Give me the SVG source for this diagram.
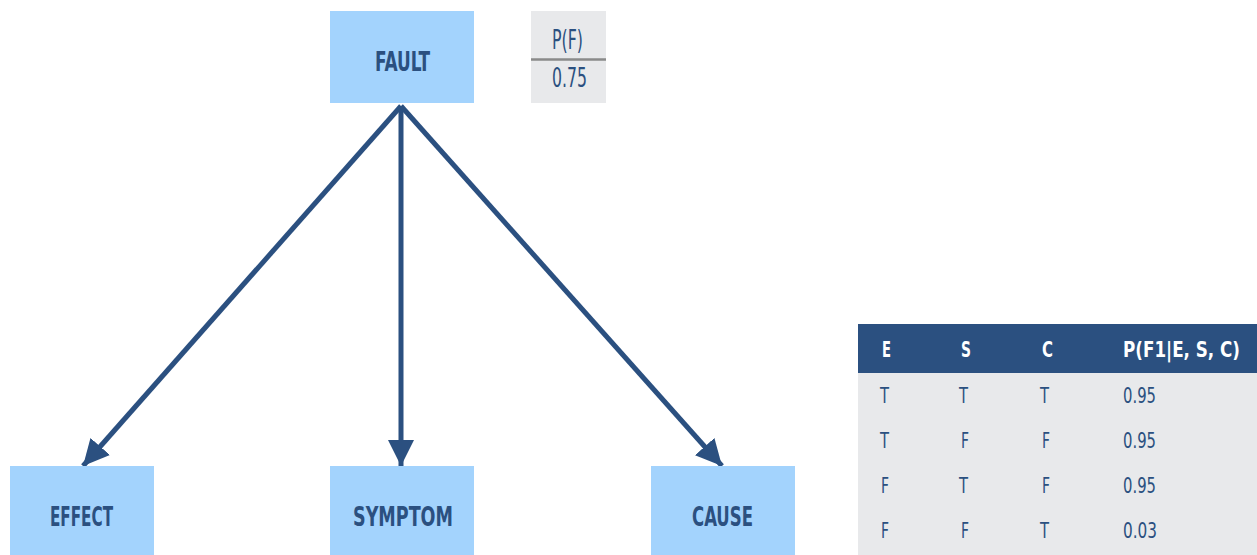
<svg xmlns="http://www.w3.org/2000/svg" width="1257" height="555" viewBox="0 0 1257 555">
<style>
.node{fill:#a3d3fd}
.nt{font-family:"DejaVu Sans Condensed","DejaVu Sans",sans-serif;font-weight:bold;font-size:26px;fill:#2b5080}
.pt{font-family:"DejaVu Sans Condensed","DejaVu Sans",sans-serif;font-size:26px;fill:#2b5080}
.th{font-family:"DejaVu Sans Condensed","DejaVu Sans",sans-serif;font-weight:bold;font-size:21px;fill:#ffffff}
.td{font-family:"DejaVu Sans Condensed","DejaVu Sans",sans-serif;font-size:21px;fill:#2b5080}
.edge{stroke:#2b5080;stroke-width:5;fill:none}
</style>
<defs>
<marker id="ah" markerUnits="userSpaceOnUse" markerWidth="28" markerHeight="28" viewBox="0 0 28 28" refX="26" refY="14" orient="auto">
<path d="M0,1 L26,14 L0,27 Z" fill="#2b5080"/>
</marker>
</defs>
<rect width="1257" height="555" fill="#ffffff"/>
<g id="connectors">
<line class="edge" x1="401" y1="106" x2="83" y2="466" marker-end="url(#ah)"/>
<line class="edge" x1="401" y1="106" x2="401" y2="466" marker-end="url(#ah)"/>
<line class="edge" x1="401" y1="106" x2="722" y2="466" marker-end="url(#ah)"/>
</g>
<g id="fault">
<rect class="node" x="330" y="11" width="144" height="92"/>
<text class="nt" x="375" y="71" textLength="55" lengthAdjust="spacingAndGlyphs">FAULT</text>
</g>
<g id="pf-table">
<rect x="531" y="11" width="75" height="92" fill="#e8e9eb"/>
<line x1="531" y1="59.5" x2="606" y2="59.5" stroke="#8a8a8a" stroke-width="2.5"/>
<text class="pt" x="552" y="49" textLength="31" lengthAdjust="spacingAndGlyphs">P(F)</text>
<text class="pt" x="552" y="87" textLength="35" lengthAdjust="spacingAndGlyphs">0.75</text>
</g>
<g id="effect">
<rect class="node" x="10" y="466" width="144" height="89"/>
<text class="nt" x="50" y="526" textLength="63" lengthAdjust="spacingAndGlyphs">EFFECT</text>
</g>
<g id="symptom">
<rect class="node" x="330" y="466" width="144" height="89"/>
<text class="nt" x="353" y="526" textLength="100" lengthAdjust="spacingAndGlyphs">SYMPTOM</text>
</g>
<g id="cause">
<rect class="node" x="651" y="466" width="144" height="89"/>
<text class="nt" x="692" y="526" textLength="61" lengthAdjust="spacingAndGlyphs">CAUSE</text>
</g>
<g id="cpt-table">
<rect x="858" y="373" width="399" height="182" fill="#e8e9eb"/>
<rect x="858" y="324" width="399" height="49" fill="#2b5080"/>
<text class="th" x="882" y="357" textLength="9" lengthAdjust="spacingAndGlyphs">E</text>
<text class="th" x="961" y="357" textLength="10" lengthAdjust="spacingAndGlyphs">S</text>
<text class="th" x="1042" y="357" textLength="11" lengthAdjust="spacingAndGlyphs">C</text>
<text class="th" x="1123" y="357" textLength="117" lengthAdjust="spacingAndGlyphs">P(F1|E, S, C)</text>
<text class="td" x="880" y="403" textLength="9" lengthAdjust="spacingAndGlyphs">T</text><text class="td" x="959" y="403" textLength="9" lengthAdjust="spacingAndGlyphs">T</text><text class="td" x="1040" y="403" textLength="9" lengthAdjust="spacingAndGlyphs">T</text>
<text class="td" x="1123" y="403" textLength="33" lengthAdjust="spacingAndGlyphs">0.95</text>
<text class="td" x="880" y="448" textLength="9" lengthAdjust="spacingAndGlyphs">T</text><text class="td" x="961" y="448" textLength="8" lengthAdjust="spacingAndGlyphs">F</text><text class="td" x="1042" y="448" textLength="8" lengthAdjust="spacingAndGlyphs">F</text>
<text class="td" x="1123" y="448" textLength="33" lengthAdjust="spacingAndGlyphs">0.95</text>
<text class="td" x="881" y="493" textLength="8" lengthAdjust="spacingAndGlyphs">F</text><text class="td" x="959" y="493" textLength="9" lengthAdjust="spacingAndGlyphs">T</text><text class="td" x="1042" y="493" textLength="8" lengthAdjust="spacingAndGlyphs">F</text>
<text class="td" x="1123" y="493" textLength="33" lengthAdjust="spacingAndGlyphs">0.95</text>
<text class="td" x="881" y="538" textLength="8" lengthAdjust="spacingAndGlyphs">F</text><text class="td" x="961" y="538" textLength="8" lengthAdjust="spacingAndGlyphs">F</text><text class="td" x="1040" y="538" textLength="9" lengthAdjust="spacingAndGlyphs">T</text>
<text class="td" x="1123" y="538" textLength="34" lengthAdjust="spacingAndGlyphs">0.03</text>
</g>
</svg>
